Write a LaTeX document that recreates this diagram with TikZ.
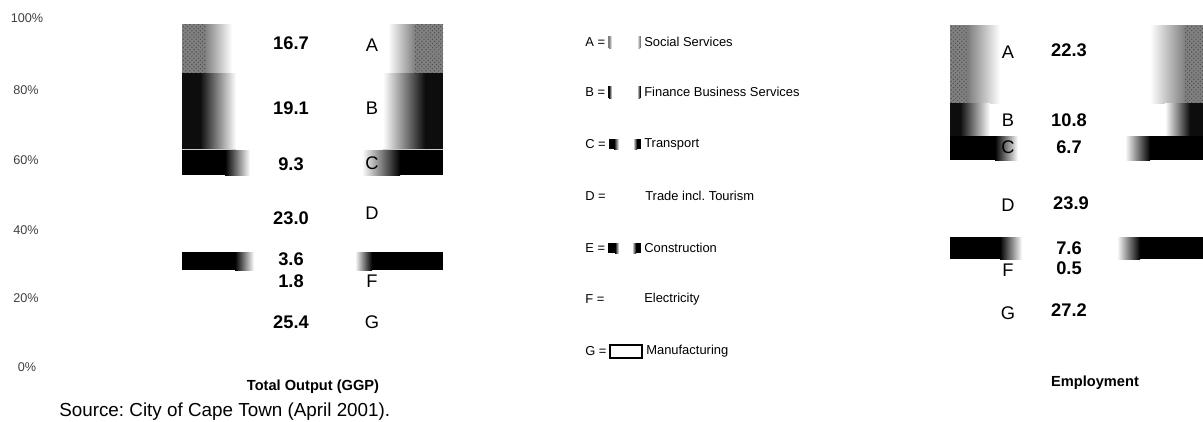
\documentclass[tikz,border=0pt]{standalone}
\usepackage{fontspec}
\setmainfont{Liberation Sans}
\usepackage{tikz}
\usetikzlibrary{patterns}

% colours of the sector fills
\definecolor{SocialGrey}{gray}{0.5}
\definecolor{FinanceBlack}{gray}{0.05}

% one half of a bar segment: solid at the outer edge, fading to white inwards
% #1 colour, #2 top, #3 bottom, #4 outer x, #5 solid end x, #6 fade end x
\newcommand{\LeftPiece}[6]{%
  \shade[left color=#1, right color=white] (#5,#2) rectangle (#6,#3);
  \fill[#1] (#4,#2) rectangle (#5,#3);}
\newcommand{\RightPiece}[6]{%
  \shade[left color=white, right color=#1] (#6,#2) rectangle (#5,#3);
  \fill[#1] (#5,#2) rectangle (#4,#3);}

\begin{document}
\frenchspacing
\begin{tikzpicture}[x=0.025cm, y=-0.025cm,
    value/.style={font=\bfseries\fontsize{13}{15}\selectfont},
    sector/.style={font=\fontsize{13}{15}\selectfont},
    tick/.style={font=\fontsize{9}{11}\selectfont, text=black!75},
    legend/.style={font=\fontsize{9.2}{11}\selectfont, anchor=west, inner sep=0pt},
    caption/.style={font=\bfseries\fontsize{10.4}{12}\selectfont},
    speckle/.style={pattern=crosshatch dots, pattern color=black!70}]
      \useasboundingbox (0,0) rectangle (1203,421);

      % Percent scale
      \node[tick] (p100) at (27,18) {100\%};
      \node[tick] (p80) at (26,90) {80\%};
      \node[tick] (p60) at (26,160) {60\%};
      \node[tick] (p40) at (26,230) {40\%};
      \node[tick] (p20) at (26,298) {20\%};
      \node[tick] (p0) at (27,367) {0\%};

      % Total output bar
      \LeftPiece{SocialGrey}{24}{73}{182}{205}{232}
      \RightPiece{SocialGrey}{24}{73}{443}{415}{388}
      \fill[speckle] (182,24) rectangle (205,73) (415,24) rectangle (443,73);
      \LeftPiece{FinanceBlack}{73}{149}{182}{200}{236}
      \RightPiece{FinanceBlack}{73}{149}{443}{425}{383}
      \draw[white!80!black, line width=0.6pt] (182,149) -- (236,149) (383,149) -- (443,149);
      \LeftPiece{black}{150}{175}{182}{225}{250}
      \RightPiece{black}{150}{175}{443}{400}{362}
      \LeftPiece{black}{252}{270}{182}{235}{254}
      \RightPiece{black}{252}{270}{443}{372}{355}

      % Total output values and sectors
      \node[value] (gA) at (291,43) {16.7};
      \node[value] (gB) at (291,108) {19.1};
      \node[value] (gC) at (291,164) {9.3};
      \node[value] (gD) at (291,218) {23.0};
      \node[value] (gE) at (291,259) {3.6};
      \node[value] (gF) at (291,281) {1.8};
      \node[value] (gG) at (291,322) {25.4};
      \node[sector] (sA) at (372,45) {A};
      \node[sector] (sB) at (372,108) {B};
      \node[sector] (sC) at (372,163) {C};
      \node[sector] (sD) at (372,213) {D};
      \node[sector] (sF) at (372,281) {F};
      \node[sector] (sG) at (372,322) {G};
      \node[caption] (ggp) at (313,387) {Total Output (GGP)};

      % Legend
      \node[legend] (kA) at (585,42) {A =};
      \node[legend] (kB) at (585,92) {B =};
      \node[legend] (kC) at (585,144) {C =};
      \node[legend] (kD) at (585,196) {D =};
      \node[legend] (kE) at (585,248) {E =};
      \node[legend] (kF) at (585,299) {F =};
      \node[legend] (kG) at (585,351) {G =};
      \LeftPiece{SocialGrey}{36}{48}{608}{609}{612}
      \RightPiece{SocialGrey}{36}{48}{641}{640}{637}
      \LeftPiece{FinanceBlack}{86}{98}{608}{609}{612}
      \RightPiece{FinanceBlack}{86}{98}{641}{640}{637}
      \LeftPiece{black}{139}{149}{609}{614}{619}
      \RightPiece{black}{139}{149}{641}{637}{633}
      \LeftPiece{black}{243}{253}{608}{615}{619}
      \RightPiece{black}{243}{253}{641}{636}{632}
      \draw[line width=1pt] (610,345) rectangle (642,358);
      \node[legend] (tA) at (644,42) {Social Services};
      \node[legend] (tB) at (644,92) {Finance Business Services};
      \node[legend] (tC) at (644,144) {Transport};
      \node[legend] (tD) at (645,196) {Trade incl. Tourism};
      \node[legend] (tE) at (644,248) {Construction};
      \node[legend] (tF) at (644,299) {Electricity};
      \node[legend] (tG) at (646,351) {Manufacturing};

      % Employment bar
      \LeftPiece{SocialGrey}{25}{103}{950}{968}{1000}
      \RightPiece{SocialGrey}{25}{103}{1203}{1185}{1150}
      \fill[speckle] (950,25) rectangle (968,103) (1185,25) rectangle (1203,103);
      \LeftPiece{FinanceBlack}{103}{136}{950}{960}{990}
      \RightPiece{FinanceBlack}{103}{136}{1203}{1190}{1165}
      \LeftPiece{black}{136}{160}{950}{995}{1018}
      \RightPiece{black}{136}{160}{1203}{1150}{1125}
      \LeftPiece{black}{237}{259}{950}{1000}{1022}
      \RightPiece{black}{237}{259}{1203}{1140}{1117}

      % Employment values and sectors
      \node[sector] (eA) at (1008,52) {A};
      \node[sector] (eB) at (1008,120) {B};
      \node[sector] (eC) at (1008,147) {C};
      \node[sector] (eD) at (1008,205) {D};
      \node[sector] (eF) at (1008,270) {F};
      \node[sector] (eG) at (1008,313) {G};
      \node[value] (nA) at (1069,50) {22.3};
      \node[value] (nB) at (1069,120) {10.8};
      \node[value] (nC) at (1069,147) {6.7};
      \node[value] (nD) at (1071,203) {23.9};
      \node[value] (nE) at (1069,248) {7.6};
      \node[value] (nF) at (1069,268) {0.5};
      \node[value] (nG) at (1069,310) {27.2};
      \node[caption] (emp) at (1095,383) {Employment};

      % Source
      \node[anchor=west, inner sep=0pt, font=\fontsize{13.4}{15}\selectfont] (src) at (59,412) {Source: City of Cape Town (April 2001).};
    \end{tikzpicture}
\end{document}
